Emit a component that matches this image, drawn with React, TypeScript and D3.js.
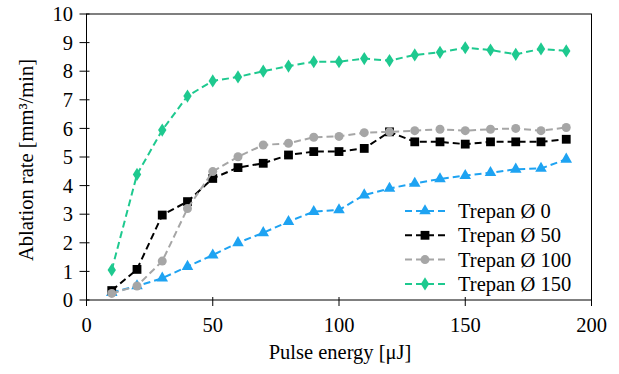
import React from "react";
import * as d3 from "d3";

const energies = [10, 20, 30, 40, 50, 60, 70, 80, 90, 100, 110, 120, 130, 140, 150, 160, 170, 180, 190];
const trepan0 = [0.26, 0.49, 0.76, 1.17, 1.57, 2.0, 2.35, 2.74, 3.09, 3.15, 3.67, 3.9, 4.08, 4.23, 4.35, 4.45, 4.57, 4.6, 4.92];
const trepan50 = [0.33, 1.07, 2.97, 3.44, 4.25, 4.63, 4.78, 5.07, 5.19, 5.19, 5.3, 5.88, 5.53, 5.53, 5.45, 5.53, 5.53, 5.53, 5.62];
const trepan100 = [0.23, 0.49, 1.36, 3.2, 4.49, 5.01, 5.42, 5.48, 5.69, 5.72, 5.85, 5.88, 5.92, 5.97, 5.92, 5.97, 6.0, 5.92, 6.03];
const trepan150 = [1.05, 4.39, 5.94, 7.13, 7.66, 7.8, 8.0, 8.18, 8.33, 8.33, 8.44, 8.37, 8.57, 8.66, 8.82, 8.74, 8.59, 8.78, 8.71];
const seriesNames = ["Trepan Ø 0", "Trepan Ø 50", "Trepan Ø 100", "Trepan Ø 150"];
const xTicks = [0, 50, 100, 150, 200];
const yTicks = [0, 1, 2, 3, 4, 5, 6, 7, 8, 9, 10];

const seriesValues = [trepan0, trepan50, trepan100, trepan150];
const colors = ["#1ea3f2", "#000000", "#a6a6a6", "#1ec98f"];
const shapes = ["triangle", "square", "circle", "diamond"];

const L = 86.5, R = 591.5, T = 14, B = 300;
const FONT = "Liberation Serif, Times New Roman, serif";
const FS = 20.5;
const DASH = "7,4";

function Marker({ shape, x, y, color }: { shape: string; x: number; y: number; color: string }) {
  if (shape === "triangle") {
    const p = d3.symbol().type(d3.symbolTriangle).size(58)();
    return <path d={p || ""} transform={`translate(${x},${y})`} fill={color} />;
  }
  if (shape === "square") {
    return <rect x={x - 4.4} y={y - 4.4} width={8.8} height={8.8} fill={color} />;
  }
  if (shape === "circle") {
    return <circle cx={x} cy={y} r={4.5} fill={color} />;
  }
  const p = d3.symbol().type(d3.symbolDiamond).size(50)();
  return <path d={p || ""} transform={`translate(${x},${y}) scale(1.1,1)`} fill={color} />;
}

export default function App() {
  const x = d3.scaleLinear().domain([0, 200]).range([L, R]);
  const y = d3.scaleLinear().domain([0, 10]).range([B, T]);
  const line = d3.line<number>().x((_, i) => x(energies[i])).y((d) => y(d));

  const legX = 405, legY0 = 211, legDy = 24.3;
  const ts = { fontFamily: FONT, fontSize: FS };

  return (
    <svg width={619} height={374} style={{ position: "absolute", left: 0, top: 0, background: "#fff", fontFamily: FONT }}>
      <rect x={0} y={0} width={619} height={374} fill="#fff" />
      <rect x={L} y={T} width={R - L} height={B - T} fill="none" stroke="#000" strokeWidth={1} />
      {yTicks.map((t) => (
        <g key={"y" + t}>
          <line x1={L - 7} x2={L + 3} y1={y(t)} y2={y(t)} stroke="#000" strokeWidth={1} />
          <text x={73} y={y(t)} dy="0.35em" textAnchor="end" style={ts}>{t}</text>
        </g>
      ))}
      {xTicks.map((t) => (
        <g key={"x" + t}>
          <line x1={x(t)} x2={x(t)} y1={B - 3} y2={B + 6} stroke="#000" strokeWidth={1} />
          <text x={x(t)} y={325} dy="0.35em" textAnchor="middle" style={ts}>{t}</text>
        </g>
      ))}
      <text x={340} y={352} dy="0.35em" textAnchor="middle" style={ts}>Pulse energy [μJ]</text>
      <text transform={`translate(26,160) rotate(-90)`} textAnchor="middle" dy="0.35em" style={ts}>Ablation rate [mm³/min]</text>
      {seriesValues.map((vals, si) => (
        <g key={"s" + si}>
          <path d={line(vals) || ""} fill="none" stroke={colors[si]} strokeWidth={2} strokeDasharray={DASH} />
          {vals.map((v, i) => (
            <Marker key={i} shape={shapes[si]} x={x(energies[i])} y={y(v)} color={colors[si]} />
          ))}
        </g>
      ))}
      {seriesNames.map((n, si) => {
        const yy = legY0 + si * legDy;
        return (
          <g key={"l" + si}>
            <line x1={legX} x2={legX + 40} y1={yy} y2={yy} stroke={colors[si]} strokeWidth={2} strokeDasharray={DASH} />
            <Marker shape={shapes[si]} x={legX + 20} y={yy} color={colors[si]} />
            <text x={458} y={yy} dy="0.35em" style={ts}>{n}</text>
          </g>
        );
      })}
    </svg>
  );
}
